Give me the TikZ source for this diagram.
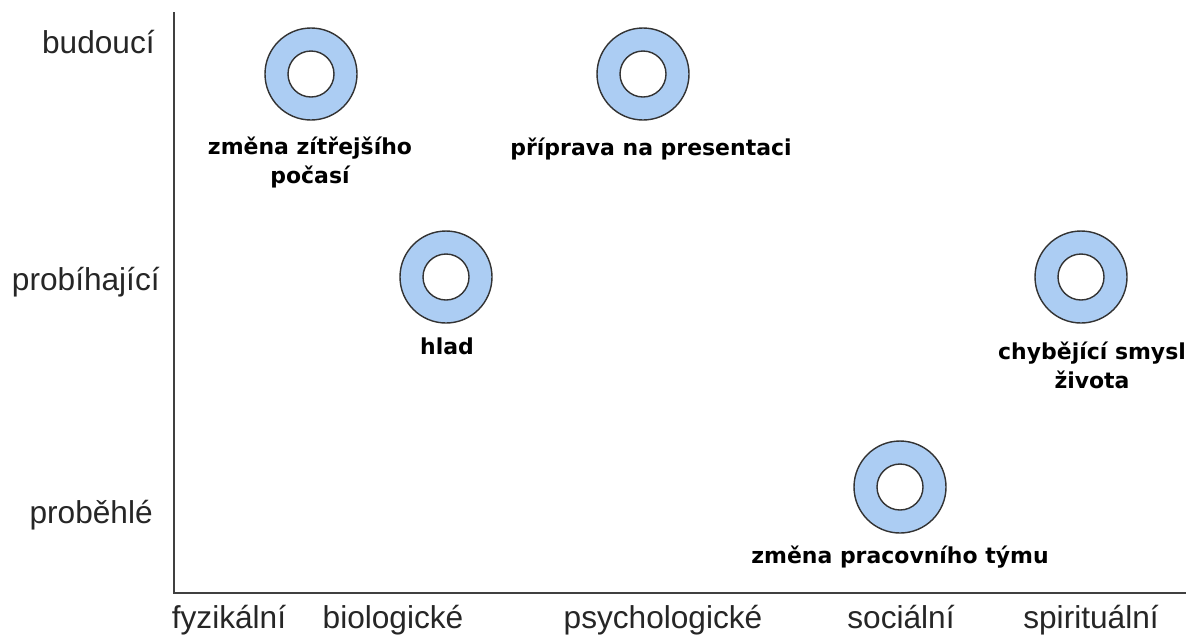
\documentclass[tikz,border=0pt]{standalone}
\usepackage{fontspec}
\setmainfont{Liberation Sans}
\newfontfamily\lblfont{DejaVu Sans}
\definecolor{ringblue}{RGB}{172,205,243}
\begin{document}
\begin{tikzpicture}[x=0.02cm,y=-0.02cm,
  axis/.style={draw=black!75, line width=1.3pt},
  axlbl/.style={font=\fontsize{18}{20}\selectfont, text=black!85, inner sep=0pt},
  ringlbl/.style={font=\lblfont\bfseries\fontsize{12.5}{16}\selectfont, align=center, inner sep=0pt},
  ringout/.style={circle, minimum size=92*0.02cm, inner sep=0pt, draw=black!80, line width=0.8pt, fill=ringblue},
  ringin/.style={circle, minimum size=46*0.02cm, inner sep=0pt, draw=black!80, line width=0.8pt, fill=white}]
\useasboundingbox (0,0) rectangle (1199,637);
\fill[white] (0,0) rectangle (1199,637);
% axes
\coordinate (top) at (174,12);
\coordinate (origin) at (174,593);
\coordinate (right) at (1186,593);
\draw[axis] (top) -- (origin) -- (right);
% axis labels
\node[axlbl, anchor=base east] (yb) at (155,53) {budoucí};
\node[axlbl, anchor=base east] (yp) at (160,290) {probíhající};
\node[axlbl, anchor=base east] (yh) at (153,523) {proběhlé};
\node[axlbl, anchor=base] (x1) at (229,628) {fyzikální};
\node[axlbl, anchor=base] (x2) at (393,628) {biologické};
\node[axlbl, anchor=base] (x3) at (663,628) {psychologické};
\node[axlbl, anchor=base] (x4) at (901,628) {sociální};
\node[axlbl, anchor=base] (x5) at (1091,628) {spirituální};
% rings
\node[ringout] (r1) at (311,74) {};
\node[ringin] (r1i) at (r1) {};
\node[ringout] (r2) at (643,74) {};
\node[ringin] (r2i) at (r2) {};
\node[ringout] (r3) at (446,277) {};
\node[ringin] (r3i) at (r3) {};
\node[ringout] (r4) at (1081,277) {};
\node[ringin] (r4i) at (r4) {};
\node[ringout] (r5) at (900,487) {};
\node[ringin] (r5i) at (r5) {};
% ring labels (base = baseline of last line)
\node[ringlbl, anchor=base] (l1) at (310,183) {změna zítřejšího\\počasí};
\node[ringlbl, anchor=base] (l2) at (651,155) {příprava na presentaci};
\node[ringlbl, anchor=base] (l3) at (447,354) {hlad};
\node[ringlbl, anchor=base] (l4) at (1092,388) {chybějící smysl\\života};
\node[ringlbl, anchor=base] (l5) at (900,563) {změna pracovního týmu};
\end{tikzpicture}
\end{document}
